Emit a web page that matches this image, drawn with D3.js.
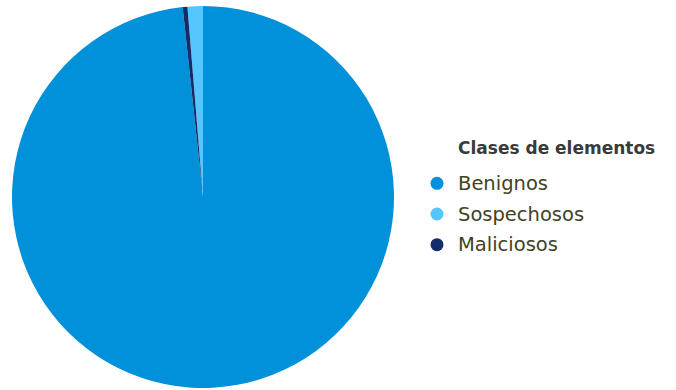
<!DOCTYPE html>
<html lang="en">
<head>
    <meta charset="UTF-8">
    <title>Clases de elementos</title>
    <style>
        body { margin: 0; background: #fff; }
        svg { display: block; }
    </style>
</head>
<body>
    <div class="chart"></div>

    <script src="https://d3js.org/d3.v7.min.js"></script>
    <script>
        // legend order
        var categories = ["Benignos", "Sospechosos", "Maliciosos"]
        var values = [98.3, 1.3, 0.4]
        var colors = ["#0091da", "#55c6ff", "#142d69"]
        // order the slices run clockwise from 12 o'clock
        var drawOrder = ["Benignos", "Maliciosos", "Sospechosos"]
        var legendTitle = "Clases de elementos"

        var width = 676
        var height = 390
        var cx = 203, cy = 197, radius = 191

        var data = categories.map(function(c, i) {
            return { name: c, value: values[i], color: colors[i] }
        })

        var svg = d3.select(".chart").append("svg")
            .attr("width", width)
            .attr("height", height)

        var pie = d3.pie()
            .value(function(d) { return d.value })
            .sort(function(a, b) { return drawOrder.indexOf(a.name) - drawOrder.indexOf(b.name) })

        var arc = d3.arc().innerRadius(0).outerRadius(radius)

        var g = svg.append("g").attr("transform", "translate(" + cx + "," + cy + ")")

        g.selectAll("path")
            .data(pie(data))
            .enter()
            .append("path")
            .attr("d", arc)
            .attr("fill", function(d) { return d.data.color })

        // legend
        var legend = svg.append("g").attr("transform", "translate(458,148)")

        legend.append("text")
            .attr("x", 0)
            .attr("y", 0)
            .attr("dy", "0.35em")
            .style("font-family", "'DejaVu Sans', sans-serif")
            .style("font-size", "17px")
            .style("font-weight", "bold")
            .style("fill", "#3a3a3a")
            .text(legendTitle)

        var y = d3.scaleBand().domain(categories).range([20, 112])

        var item = legend.selectAll(".item")
            .data(data)
            .enter()
            .append("g")
            .attr("class", "item")
            .attr("transform", function(d) { return "translate(0," + (y(d.name) + y.bandwidth() / 2) + ")" })

        item.append("circle")
            .attr("cx", -21)
            .attr("cy", 0)
            .attr("r", 6.5)
            .attr("fill", function(d) { return d.color })

        item.append("text")
            .attr("x", 0)
            .attr("dy", "0.35em")
            .style("font-family", "'DejaVu Sans', sans-serif")
            .style("font-size", "19.5px")
            .style("fill", "#414124")
            .text(function(d) { return d.name })
    </script>
</body>
</html>
